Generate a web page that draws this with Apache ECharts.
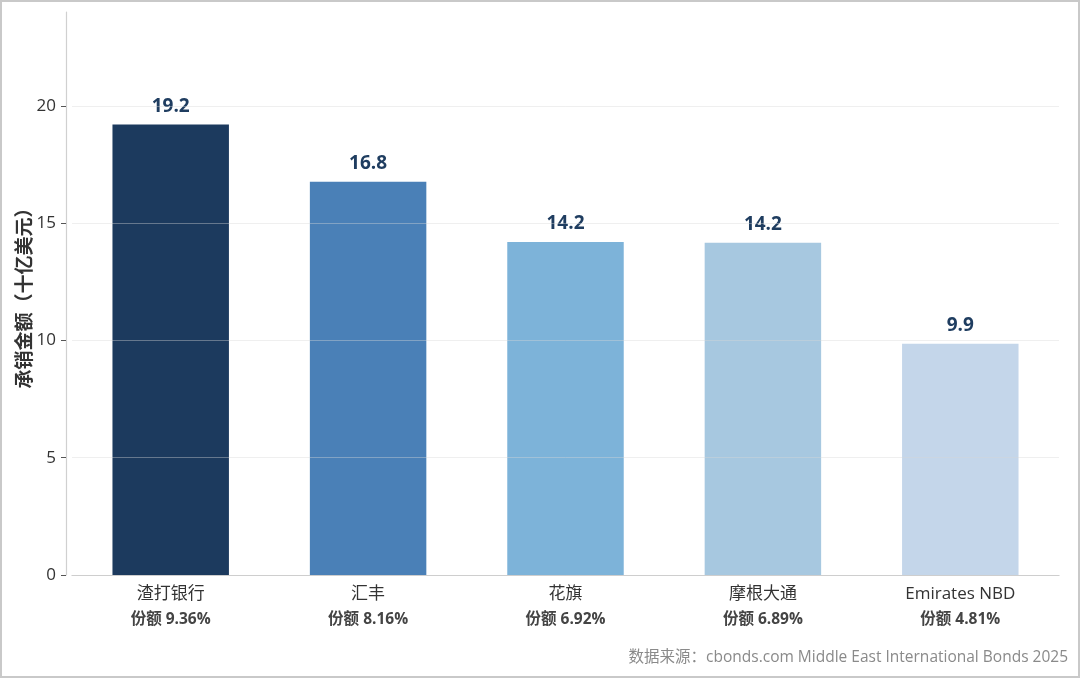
<!DOCTYPE html>
<html>
<head>
<meta charset="utf-8">
<title>承销金额</title>
<script src="https://cdn.jsdelivr.net/npm/echarts@6/dist/echarts.min.js"></script>
<style>
    html, body { margin: 0; padding: 0; background: #fff; }
    #chart { width: 1080px; height: 678px; }
</style>
</head>
<body>
<div id="chart"></div>
<script>
// data
const banks = ['渣打银行', '汇丰', '花旗', '摩根大通', 'Emirates NBD'];
const amounts = [19.2, 16.76, 14.2, 14.16, 9.86];
const shares = ['9.36%', '8.16%', '6.92%', '6.89%', '4.81%'];
const barColors = ['#1c3a5e', '#4a80b7', '#7db3d9', '#a7c8e0', '#c4d6ea'];
const yTicks = [0, 5, 10, 15, 20];

const baseFont = "'Open Sans', 'Noto Sans CJK SC', sans-serif";

var chart = echarts.init(document.getElementById('chart'));

var categories = banks.map(function (name, i) {
    return name + '\n{s|份额 ' + shares[i] + '}';
});

var option = {
    backgroundColor: '#fff',
    textStyle: { fontFamily: baseFont },
    graphic: [
        {
            type: 'rect',
            shape: { x: 1, y: 1, width: 1078, height: 676 },
            style: { fill: 'none', stroke: '#c9c9c9', lineWidth: 2 },
            z: 100
        },
        {
            type: 'text',
            right: 12,
            top: 650,
            style: {
                text: '数据来源：cbonds.com Middle East International Bonds 2025',
                fill: '#8a8a8a',
                font: "15.5px 'Open Sans', 'Noto Sans CJK SC', sans-serif"
            }
        }
    ],
    grid: {
        left: 72,
        right: 21,
        top: 12,
        bottom: 103
    },
    xAxis: {
        type: 'category',
        data: categories,
        axisLine: { lineStyle: { color: '#c8c8c8', width: 1.2 } },
        axisTick: { alignWithLabel: true, length: 5, lineStyle: { color: '#555' } },
        axisLabel: {
            color: '#333',
            fontSize: 17,
            margin: 7,
            lineHeight: 25,
            rich: {
                s: { fontSize: 15.5, fontWeight: 'bold', color: '#444', lineHeight: 25 }
            }
        }
    },
    yAxis: {
        type: 'value',
        min: 0,
        max: 24,
        z: 5,
        offset: 6,
        name: '承销金额（十亿美元）',
        nameLocation: 'middle',
        nameGap: 31,
        nameMoveOverlap: false,
        nameTextStyle: { fontSize: 19, fontWeight: 'bold', color: '#333' },
        axisLine: { show: true, lineStyle: { color: '#d0d0d0', width: 1.2 } },
        axisTick: { show: true, length: 5, customValues: yTicks, lineStyle: { color: '#555' } },
        axisLabel: {
            color: '#333',
            fontSize: 17,
            margin: 10,
            customValues: yTicks
        },
        splitLine: { lineStyle: { color: 'rgba(215,215,215,0.4)' } }
    },
    series: [
        {
            type: 'bar',
            barWidth: '59%',
            data: amounts.map(function (v, i) {
                return { value: v, itemStyle: { color: barColors[i] } };
            }),
            label: {
                show: true,
                position: 'top',
                distance: 9,
                color: '#1f3d60',
                fontSize: 19,
                fontWeight: 'bold',
                formatter: function (p) { return p.value.toFixed(1); }
            }
        }
    ]
};

chart.setOption(option);
</script>
</body>
</html>
